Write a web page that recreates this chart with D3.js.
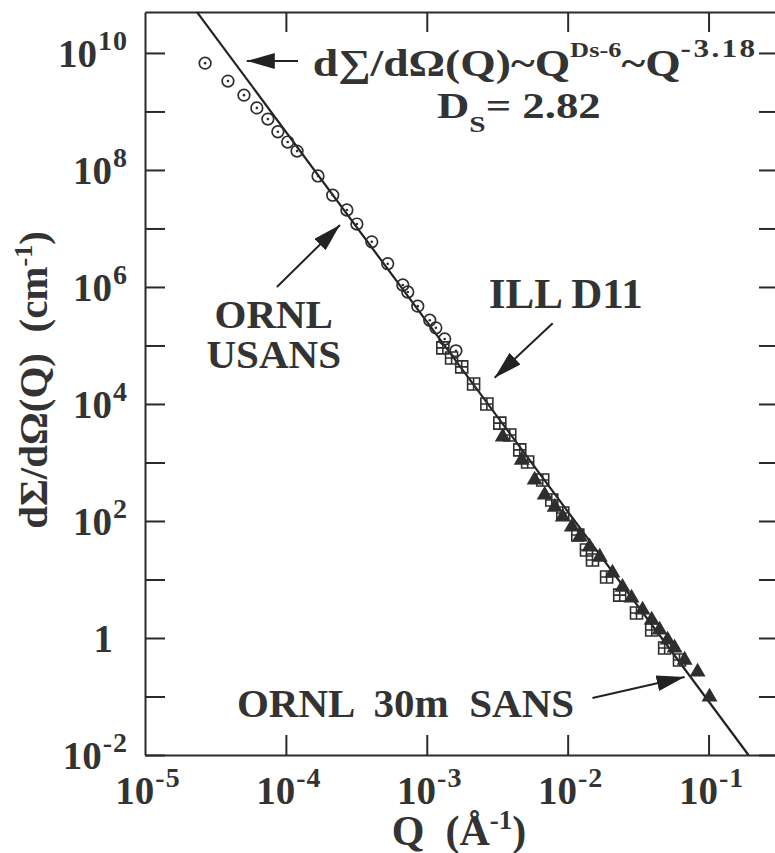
<!DOCTYPE html>
<html lang="en">
<head>
<meta charset="UTF-8">
<title>Q scattering</title>
<style>
  body { margin: 0; background: #fff; }
  svg text { font-family: "Liberation Serif", "Times New Roman", serif; font-weight: bold; fill: #333; }
</style>
</head>
<body>
<div id="chart"></div>
<script src="https://cdn.jsdelivr.net/npm/d3@7"></script>
<script>
// ORNL USANS (open circles)
const usansQ = [2.67e-5, 3.88e-5, 5.04e-5, 6.22e-5, 7.45e-5, 8.77e-5, 1.03e-4, 1.20e-4, 1.69e-4, 2.15e-4,
                2.71e-4, 3.19e-4, 4.07e-4, 5.28e-4, 6.76e-4, 7.33e-4, 8.63e-4, 1.05e-3, 1.16e-3, 1.34e-3, 1.61e-3];
const usansI = [6.7e9, 3.3e9, 1.9e9, 1.15e9, 7.4e8, 4.5e8, 3.0e8, 2.1e8, 7.9e7, 3.7e7,
                2.07e7, 1.19e7, 5.9e6, 2.5e6, 1.08e6, 8.2e5, 4.7e5, 2.7e5, 2.0e5, 1.29e5, 8.1e4];

// ILL D11 (open squares)
const d11Q = [1.30e-3, 1.50e-3, 1.77e-3, 2.15e-3, 2.67e-3, 3.30e-3, 3.88e-3, 4.57e-3, 5.20e-3, 6.65e-3,
              7.71e-3, 9.23e-3, 1.18e-2, 1.36e-2, 1.50e-2, 1.89e-2, 2.34e-2, 3.08e-2, 3.95e-2, 4.88e-2, 6.22e-2];
const d11I = [9.1e4, 6.1e4, 4.3e4, 2.2e4, 1.0e4, 4.7e3, 2.95e3, 1.64e3, 1.02e3, 502,
              229, 137, 57.7, 31.9, 21.5, 11.0, 5.4, 2.67, 1.37, 0.675, 0.42];

// ORNL 30m SANS (filled triangles)
const sansQ = [3.46e-3, 4.72e-3, 5.83e-3, 6.87e-3, 8.09e-3, 9.23e-3, 1.07e-2, 1.22e-2, 1.43e-2, 1.69e-2,
               2.08e-2, 2.45e-2, 2.84e-2, 3.40e-2, 3.95e-2, 4.49e-2, 5.12e-2, 5.74e-2, 6.76e-2, 8.36e-2, 0.1016];
const sansI = [2.73e3, 1.10e3, 502, 278, 173, 117, 78.9, 53.2, 35.9, 24.2,
               12.9, 7.4, 4.83, 3.01, 2.03, 1.37, 0.925, 0.675, 0.42, 0.262, 0.098];

// power-law fit, end points where it meets the frame
const fitQ = [2.34e-5, 0.192];
const fitI = [5.0e10, 0.01];

const xTickExp = [-5, -4, -3, -2, -1];
const yTickExp = [-2, -1, 0, 1, 2, 3, 4, 5, 6, 7, 8, 9, 10];
const yLabelExp = [-2, 0, 2, 4, 6, 8, 10];

const width = 775, height = 853;
const m = {left: 145, right: 779, top: 12, bottom: 755};

const svg = d3.select("#chart").append("svg")
    .attr("width", width)
    .attr("height", height);

const x = d3.scaleLog().domain([1e-5, Math.pow(10, -0.5)]).range([m.left, m.right]);
const y = d3.scaleLog().domain([1e-2, Math.pow(10, 10.7)]).range([m.bottom, m.top]);

// axes (ticks pointing inward on all four sides)
const xTicks = xTickExp.slice(1).map(e => Math.pow(10, e));
const yTicks = yTickExp.map(e => Math.pow(10, e));

function styleAxis(g) {
    g.selectAll("path.domain").attr("stroke", "#2a2a2a").attr("stroke-width", 2);
    g.selectAll(".tick line").attr("stroke", "#2a2a2a").attr("stroke-width", 2);
    g.selectAll(".tick text").remove();
}

svg.append("g").attr("transform", `translate(0,${m.bottom})`)
    .call(d3.axisBottom(x).tickValues(xTicks).tickSize(-20).tickSizeOuter(0))
    .call(styleAxis);
svg.append("g").attr("transform", `translate(0,${m.top})`)
    .call(d3.axisTop(x).tickValues(xTicks).tickSize(-20).tickSizeOuter(0))
    .call(styleAxis);
svg.append("g").attr("transform", `translate(${m.left},0)`)
    .call(d3.axisLeft(y).tickValues(yTicks).tickSize(-20).tickSizeOuter(0))
    .call(styleAxis);
svg.append("g").attr("transform", `translate(${m.right},0)`)
    .call(d3.axisRight(y).tickValues(yTicks).tickSize(-20).tickSizeOuter(0))
    .call(styleAxis);

// power-of-ten tick labels
function pow10(text, e, size, supSize, rise) {
    if (e === 0) { text.append("tspan").style("font-size", size + "px").text("1"); return; }
    text.append("tspan").style("font-size", size + "px").text("10");
    text.append("tspan").attr("dy", -rise).attr("dx", 1).style("font-size", supSize + "px")
        .style("letter-spacing", "1px").text(e);
}

svg.append("g").selectAll("text")
    .data(xTickExp)
    .join("text")
        .attr("x", e => x(Math.pow(10, e)) + 3)
        .attr("y", m.bottom + 49)
        .attr("text-anchor", "middle")
        .each(function (e) { pow10(d3.select(this), e, 39, 28, 17); });

svg.append("g").selectAll("text")
    .data(yLabelExp)
    .join("text")
        .attr("x", e => e === 0 ? m.left - 32 : m.left - 17)
        .attr("y", e => y(Math.pow(10, e)) + 14)
        .attr("text-anchor", "end")
        .each(function (e) { pow10(d3.select(this), e, 39, 28, 17); });

// axis titles
const yTitle = svg.append("text")
    .attr("transform", `translate(47,${(225 + 535) / 2}) rotate(-90)`)
    .attr("text-anchor", "middle")
    .attr("xml:space", "preserve")
    .style("font-size", "41px");
yTitle.append("tspan").text("dΣ/dΩ(Q)  (cm");
yTitle.append("tspan").attr("dy", -15).style("font-size", "26px").text("-1");
yTitle.append("tspan").attr("dy", 15).text(")");

const xTitle = svg.append("text")
    .attr("x", 459)
    .attr("y", 845)
    .attr("text-anchor", "middle")
    .attr("xml:space", "preserve")
    .style("font-size", "42px");
xTitle.append("tspan").text("Q  (Å");
xTitle.append("tspan").attr("dy", -16).style("font-size", "27px").text("-1");
xTitle.append("tspan").attr("dy", 16).text(")");

// fit line
svg.append("path")
    .datum(d3.zip(fitQ, fitI))
    .attr("fill", "none")
    .attr("stroke", "#222")
    .attr("stroke-width", 2.2)
    .attr("d", d3.line().x(d => x(d[0])).y(d => y(d[1])));

// data markers
const ink = "#2e2e2e";

svg.append("g").selectAll("g")
    .data(d3.zip(usansQ, usansI))
    .join("g")
        .attr("transform", d => `translate(${x(d[0])},${y(d[1])})`)
        .call(g => g.append("circle").attr("r", 5.8).attr("fill", "none").attr("stroke", ink).attr("stroke-width", 1.7))
        .call(g => g.append("circle").attr("r", 1.3).attr("fill", ink));

svg.append("g").selectAll("path")
    .data(d3.zip(sansQ, sansI))
    .join("path")
        .attr("transform", d => `translate(${x(d[0])},${y(d[1])})`)
        .attr("d", d3.symbol(d3.symbolTriangle, 110))
        .attr("fill", ink);

const crossSquare = {
    draw(context, size) {
        const h = Math.sqrt(size) / 2;
        context.rect(-h, -h, 2 * h, 2 * h);
        context.moveTo(-h, 0); context.lineTo(h, 0);
        context.moveTo(0, -h); context.lineTo(0, h);
    }
};

svg.append("g").selectAll("path")
    .data(d3.zip(d11Q, d11I))
    .join("path")
        .attr("transform", d => `translate(${x(d[0])},${y(d[1])})`)
        .attr("d", d3.symbol(crossSquare, 144))
        .attr("fill", "none")
        .attr("stroke", ink)
        .attr("stroke-width", 1.6);

// annotations
svg.append("defs").append("marker")
    .attr("id", "head")
    .attr("markerUnits", "userSpaceOnUse")
    .attr("markerWidth", 30)
    .attr("markerHeight", 18)
    .attr("refX", 28)
    .attr("refY", 8)
    .attr("orient", "auto")
  .append("path")
    .attr("d", "M0,0L28,8L0,16Z")
    .attr("fill", "#222");

const arrows = [
    [[1.22e-4, 7.3e9], [5.28e-5, 7.3e9]],
    [[8.63e-5, 1.0e6], [2.42e-4, 1.15e7]],
    [[7.83e-3, 2.4e5], [3.03e-3, 2.8e4]],
    [[1.50e-2, 0.094], [6.76e-2, 0.215]]
];

svg.append("g").selectAll("line")
    .data(arrows)
    .join("line")
        .attr("x1", d => x(d[0][0])).attr("y1", d => y(d[0][1]))
        .attr("x2", d => x(d[1][0])).attr("y2", d => y(d[1][1]))
        .attr("stroke", "#222")
        .attr("stroke-width", 2)
        .attr("marker-end", "url(#head)");

// the printed formula is set wider than the font, so stretch it horizontally
const formula = svg.append("text")
    .attr("transform", `translate(${x(1.55e-4)},${y(4.05e9)}) scale(1.2,1)`)
    .style("font-size", "38px");
formula.append("tspan").text("d∑/dΩ(Q)~Q");
formula.append("tspan").attr("dy", -19).style("font-size", "22px").text("Ds-6");
formula.append("tspan").attr("dy", 19).text("~Q");
formula.append("tspan").attr("dy", -19).style("font-size", "26px").style("letter-spacing", "2px").text("-3.18");

const ds = svg.append("text")
    .attr("transform", `translate(${x(1.18e-3)},${y(7.7e8)}) scale(1.28,1)`)
    .attr("xml:space", "preserve")
    .style("font-size", "35px");
ds.append("tspan").text("D");
ds.append("tspan").attr("dy", 14).style("font-size", "23px").text("S");
ds.append("tspan").attr("dy", -14).text("= 2.82");

// two-line instrument label
const usansLabel = svg.append("text")
    .attr("text-anchor", "middle")
    .style("font-size", "41px");
usansLabel.append("tspan").attr("x", x(8.2e-5)).attr("y", y(2.0e5)).text("ORNL");
usansLabel.append("tspan").attr("x", x(8.2e-5)).attr("y", y(4.1e4)).text("USANS");

const labels = [
    {text: "ILL D11", q: 9.7e-3, i: 4.4e5, anchor: "middle", size: 43},
    {text: "ORNL  30m  SANS", q: 4.49e-5, i: 0.0447, anchor: "start", size: 41}
];

svg.append("g").selectAll("text")
    .data(labels)
    .join("text")
        .attr("x", d => x(d.q))
        .attr("y", d => y(d.i))
        .attr("text-anchor", d => d.anchor)
        .attr("xml:space", "preserve")
        .style("font-size", d => d.size + "px")
        .text(d => d.text);
</script>
</body>
</html>
